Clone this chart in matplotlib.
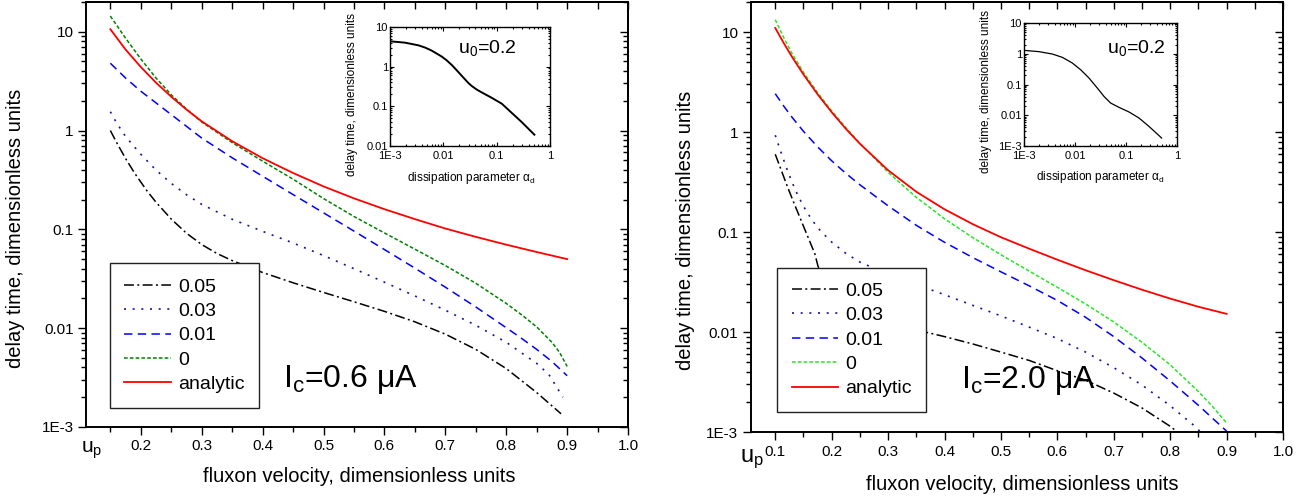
import numpy as np
import matplotlib
matplotlib.use('Agg')
import matplotlib.pyplot as plt
from matplotlib.ticker import FixedLocator, FixedFormatter, MultipleLocator, LogLocator, NullFormatter

plt.rcParams['font.family'] = ['Liberation Sans', 'DejaVu Sans']
plt.rcParams['mathtext.default'] = 'regular'

# ---- left panel, Ic = 0.6 uA ----
xl_an = [0.15, 0.175, 0.2, 0.225, 0.25, 0.275, 0.3, 0.35, 0.4, 0.45, 0.5, 0.55, 0.6, 0.65, 0.7, 0.75, 0.8, 0.85, 0.9]
yl_an = [10.6, 6.6, 4.4, 3.05, 2.2, 1.63, 1.24, 0.78, 0.525, 0.372, 0.272, 0.206, 0.16, 0.127, 0.102, 0.084, 0.07, 0.059, 0.05]

xl_0 = [0.15, 0.175, 0.2, 0.225, 0.25, 0.275, 0.3, 0.35, 0.4, 0.45, 0.5, 0.55, 0.6, 0.65, 0.7, 0.75, 0.8, 0.825, 0.85, 0.875, 0.8875, 0.9]
yl_0 = [14.4, 8.6, 5.3, 3.4, 2.3, 1.65, 1.22, 0.755, 0.49, 0.322, 0.205, 0.135, 0.092, 0.063, 0.043, 0.0285, 0.0178, 0.0137, 0.0103, 0.0072, 0.0057, 0.0041]

xl_01 = [0.15, 0.175, 0.2, 0.25, 0.3, 0.35, 0.4, 0.45, 0.5, 0.55, 0.6, 0.65, 0.7, 0.75, 0.8, 0.825, 0.85, 0.875, 0.9]
yl_01 = [4.8, 3.4, 2.5, 1.45, 0.84, 0.53, 0.345, 0.225, 0.147, 0.096, 0.0625, 0.0405, 0.026, 0.0164, 0.0101, 0.0079, 0.0061, 0.0046, 0.0033]

xl_03 = [0.15, 0.16, 0.175, 0.2, 0.225, 0.25, 0.275, 0.3, 0.35, 0.4, 0.45, 0.5, 0.55, 0.6, 0.65, 0.7, 0.75, 0.8, 0.85, 0.87, 0.893]
yl_03 = [1.55, 1.2, 0.87, 0.575, 0.398, 0.292, 0.224, 0.179, 0.1266, 0.0955, 0.0728, 0.0543, 0.040, 0.0292, 0.0212, 0.0152, 0.0107, 0.0072, 0.0044, 0.0034, 0.0020]

xl_05 = [0.15, 0.16, 0.175, 0.19, 0.21, 0.225, 0.25, 0.275, 0.3, 0.325, 0.35, 0.4, 0.45, 0.5, 0.55, 0.6, 0.65, 0.7, 0.75, 0.8, 0.85, 0.89]
yl_05 = [1.0, 0.762, 0.521, 0.369, 0.246, 0.188, 0.127, 0.0914, 0.0702, 0.057, 0.0483, 0.0366, 0.0288, 0.023, 0.0185, 0.0148, 0.0116, 0.0087, 0.0061, 0.0039, 0.00223, 0.00136]

# inset, left
al_in = [1e-3, 1.9e-3, 3.4e-3, 4.6e-3, 6.0e-3, 9.3e-3, 0.0115, 0.0145, 0.0178, 0.0219, 0.0295, 0.0339, 0.0422, 0.0525, 0.0813, 0.124, 0.19, 0.295, 0.508]
tl_in = [4.36, 4.03, 3.45, 3.01, 2.55, 1.80, 1.45, 1.09, 0.81, 0.596, 0.386, 0.327, 0.265, 0.224, 0.163, 0.117, 0.069, 0.040, 0.0193]

# ---- right panel, Ic = 2.0 uA ----
xr_an = [0.1, 0.115, 0.13, 0.15, 0.175, 0.2, 0.225, 0.25, 0.3, 0.35, 0.4, 0.45, 0.5, 0.55, 0.6, 0.65, 0.7, 0.75, 0.8, 0.85, 0.9]
yr_an = [11.0, 7.78, 5.62, 3.77, 2.39, 1.58, 1.08, 0.765, 0.415, 0.253, 0.169, 0.12, 0.0888, 0.0682, 0.0529, 0.0415, 0.033, 0.0265, 0.0216, 0.0179, 0.0152]

xr_0 = [0.1, 0.115, 0.13, 0.15, 0.175, 0.2, 0.225, 0.25, 0.3, 0.35, 0.4, 0.45, 0.5, 0.55, 0.6, 0.65, 0.7, 0.75, 0.8, 0.85, 0.875, 0.9]
yr_0 = [13.3, 8.82, 6.07, 3.96, 2.48, 1.63, 1.11, 0.772, 0.396, 0.2226, 0.1357, 0.0881, 0.0593, 0.0407, 0.028, 0.0191, 0.0126, 0.0079, 0.0047, 0.00254, 0.0018, 0.00123]

xr_01 = [0.1, 0.115, 0.13, 0.15, 0.175, 0.2, 0.225, 0.25, 0.3, 0.35, 0.4, 0.45, 0.5, 0.55, 0.6, 0.65, 0.7, 0.75, 0.8, 0.85, 0.9]
yr_01 = [2.42, 1.82, 1.40, 1.017, 0.712, 0.516, 0.387, 0.297, 0.183, 0.1168, 0.079, 0.0556, 0.040, 0.029, 0.0207, 0.01405, 0.009, 0.0055, 0.00324, 0.00185, 0.00102]

xr_03 = [0.1, 0.11, 0.12, 0.13, 0.14, 0.15, 0.165, 0.18, 0.2, 0.225, 0.25, 0.3, 0.35, 0.4, 0.45, 0.5, 0.55, 0.6, 0.65, 0.7, 0.75, 0.8, 0.84, 0.87]
yr_03 = [0.93, 0.631, 0.437, 0.313, 0.233, 0.181, 0.132, 0.103, 0.0794, 0.0613, 0.0501, 0.0376, 0.0299, 0.0236, 0.0185, 0.0145, 0.0112, 0.0086, 0.0063, 0.0044, 0.00295, 0.00183, 0.00119, 0.00082]

xr_05 = [0.1, 0.111, 0.122, 0.134, 0.146, 0.158, 0.17, 0.176, 0.2, 0.25, 0.3, 0.35, 0.4, 0.45, 0.5, 0.55, 0.6, 0.65, 0.7, 0.75, 0.8, 0.82]
yr_05 = [0.6, 0.41, 0.28, 0.19, 0.13, 0.089, 0.061, 0.045, 0.030, 0.0175, 0.0128, 0.0105, 0.009, 0.0076, 0.0063, 0.0052, 0.0041, 0.0033, 0.00245, 0.00174, 0.00114, 0.00093]

# inset, right
ar_in = [1e-3, 1.97e-3, 3.6e-3, 5.65e-3, 8.87e-3, 0.0129, 0.0188, 0.0274, 0.0371, 0.05, 0.073, 0.1146, 0.18, 0.2825, 0.501]
tr_in = [1.29, 1.17, 0.98, 0.764, 0.50, 0.303, 0.163, 0.077, 0.041, 0.025, 0.0181, 0.0128, 0.00815, 0.00436, 0.00182]

labels = ['0.05', '0.03', '0.01', '0', 'analytic']

y_ticks = [1e-3, 1e-2, 1e-1, 1, 10]
y_ticklabels = ['1E-3', '0.01', '0.1', '1', '10']
xl_ticks = [0.2, 0.3, 0.4, 0.5, 0.6, 0.7, 0.8, 0.9, 1.0]
xl_ticklabels = ['0.2', '0.3', '0.4', '0.5', '0.6', '0.7', '0.8', '0.9', '1.0']
xr_ticks = [0.1, 0.2, 0.3, 0.4, 0.5, 0.6, 0.7, 0.8, 0.9, 1.0]
xr_ticklabels = ['0.1', '0.2', '0.3', '0.4', '0.5', '0.6', '0.7', '0.8', '0.9', '1.0']
in_xticks = [1e-3, 1e-2, 1e-1, 1]
in_xticklabels = ['1E-3', '0.01', '0.1', '1']


def main_axes(ax, xlim, xt, xtl, lbl_x, lbl_y):
    ax.set_yscale('log')
    ax.set_xlim(*xlim)
    ax.set_ylim(1e-3, 20)
    ax.xaxis.set_major_locator(FixedLocator(xt))
    ax.xaxis.set_major_formatter(FixedFormatter(xtl))
    ax.xaxis.set_minor_locator(MultipleLocator(0.05))
    ax.yaxis.set_major_locator(FixedLocator(y_ticks))
    ax.yaxis.set_major_formatter(FixedFormatter(y_ticklabels))
    ax.yaxis.set_minor_locator(LogLocator(subs=np.arange(2, 10), numticks=20))
    ax.yaxis.set_minor_formatter(NullFormatter())
    ax.tick_params(which='major', direction='out', length=6, width=1, labelsize=11, pad=3)
    ax.tick_params(which='minor', direction='out', length=3.5, width=1)
    for s in ax.spines.values():
        s.set_linewidth(1.4)
    # mirrored ticks pointing inside on top and right
    top = ax.secondary_xaxis('top')
    top.xaxis.set_major_locator(FixedLocator(xt))
    top.xaxis.set_minor_locator(MultipleLocator(0.05))
    top.xaxis.set_major_formatter(NullFormatter())
    top.tick_params(which='major', direction='in', length=5, width=1)
    top.tick_params(which='minor', direction='in', length=5, width=1)
    right = ax.secondary_yaxis('right')
    right.yaxis.set_major_locator(FixedLocator(y_ticks))
    right.yaxis.set_minor_locator(LogLocator(subs=np.arange(2, 10), numticks=20))
    right.yaxis.set_major_formatter(NullFormatter())
    right.yaxis.set_minor_formatter(NullFormatter())
    right.tick_params(which='major', direction='in', length=6, width=1)
    right.tick_params(which='minor', direction='in', length=3.5, width=1)
    for sec in (top, right):
        for s in sec.spines.values():
            s.set_linewidth(1.4)
    ax.set_xlabel('fluxon velocity, dimensionless units', fontsize=14.5)
    ax.set_ylabel('delay time, dimensionless units', fontsize=14.5)
    ax.xaxis.set_label_coords(*lbl_x)
    ax.yaxis.set_label_coords(*lbl_y)


def inset_axes(ax, x, y, ylim, yt, ytl, lw, lbl_x, lbl_y, txt_pos):
    ax.plot(x, y, color='black', lw=lw)
    ax.set_xscale('log')
    ax.set_yscale('log')
    ax.set_xlim(1e-3, 1)
    ax.set_ylim(*ylim)
    ax.xaxis.set_major_locator(FixedLocator(in_xticks))
    ax.xaxis.set_major_formatter(FixedFormatter(in_xticklabels))
    ax.yaxis.set_major_locator(FixedLocator(yt))
    ax.yaxis.set_major_formatter(FixedFormatter(ytl))
    ax.xaxis.set_minor_locator(LogLocator(subs=np.arange(2, 10), numticks=20))
    ax.yaxis.set_minor_locator(LogLocator(subs=np.arange(2, 10), numticks=20))
    ax.xaxis.set_minor_formatter(NullFormatter())
    ax.yaxis.set_minor_formatter(NullFormatter())
    ax.tick_params(which='both', direction='in', top=True, right=True, width=0.8)
    ax.tick_params(which='major', length=3, labelsize=8)
    ax.tick_params(axis='x', which='major', pad=3.5)
    ax.tick_params(axis='y', which='major', pad=1.5)
    ax.tick_params(which='minor', length=1.5)
    for s in ax.spines.values():
        s.set_linewidth(1.0)
    ax.set_xlabel(r'dissipation parameter $\alpha_d$', fontsize=8.5)
    ax.set_ylabel('delay time, dimensionless units', fontsize=8.5)
    ax.xaxis.set_label_coords(*lbl_x)
    ax.yaxis.set_label_coords(*lbl_y)
    ax.text(txt_pos[0], txt_pos[1], r'u$_0$=0.2', transform=ax.transAxes,
            fontsize=14, va='baseline')


def draw_curves(ax, data, green):
    (x5, y5), (x3, y3), (x1, y1), (x0, y0), (xa, ya) = data
    ax.plot(x5, y5, color='black', lw=1.1, dashes=(6.5, 2.2, 1.3, 2.2), label=labels[0])
    ax.plot(x3, y3, color='#1414a0', lw=1.2, dashes=(1.2, 4.0), label=labels[1])
    ax.plot(x1, y1, color='#0000ff', lw=1.1, dashes=(5.5, 3.5), label=labels[2])
    ax.plot(x0, y0, color=green, lw=1.1, dashes=(2.4, 1.4), label=labels[3])
    ax.plot(xa, ya, color='#ff0000', lw=1.3, label=labels[4])


def add_legend(ax, anchor):
    leg = ax.legend(loc='lower left', bbox_to_anchor=anchor, borderaxespad=0, fontsize=14,
                    handlelength=2.4, handletextpad=0.35, labelspacing=0.35, borderpad=0.75,
                    fancybox=False, framealpha=1, edgecolor='#222222')
    leg.get_frame().set_linewidth(1.0)


fig = plt.figure(figsize=(13.15, 4.98), dpi=100)

# left
ax1 = fig.add_axes([0.0654, 0.1426, 0.4122, 0.8534])
draw_curves(ax1, [(xl_05, yl_05), (xl_03, yl_03), (xl_01, yl_01), (xl_0, yl_0), (xl_an, yl_an)], '#008000')
main_axes(ax1, (0.11, 1.0), xl_ticks, xl_ticklabels, (0.505, -0.094), (-0.112, 0.468))
add_legend(ax1, (0.044, 0.045))
ax1.text(0.363, 0.094, r'I$_c$=0.6 μA', transform=ax1.transAxes, fontsize=23, va='baseline')
ax1.text(-0.01, -0.061, r'u$_p$', transform=ax1.transAxes, fontsize=15, va='baseline')

in1 = fig.add_axes([0.2966, 0.7068, 0.1217, 0.239])
inset_axes(in1, al_in, tl_in, (0.01, 10), [0.01, 0.1, 1, 10], ['0.01', '0.1', '1', '10'], 1.4,
           (0.51, -0.2), (-0.2, 0.43), (0.425, 0.78))

# right
ax2 = fig.add_axes([0.5711, 0.1325, 0.4046, 0.8635])
draw_curves(ax2, [(xr_05, yr_05), (xr_03, yr_03), (xr_01, yr_01), (xr_0, yr_0), (xr_an, yr_an)], '#22e822')
main_axes(ax2, (0.057, 1.0), xr_ticks, xr_ticklabels, (0.509, -0.1), (-0.105, 0.47))
add_legend(ax2, (0.049, 0.0465))
ax2.text(0.395, 0.102, r'I$_c$=2.0 μA', transform=ax2.transAxes, fontsize=23, va='baseline')
ax2.text(-0.021, -0.07, r'u$_p$', transform=ax2.transAxes, fontsize=17, va='baseline')

in2 = fig.add_axes([0.7787, 0.7068, 0.1163, 0.247])
inset_axes(in2, ar_in, tr_in, (1e-3, 10), [1e-3, 0.01, 0.1, 1, 10], ['1E-3', '0.01', '0.1', '1', '10'], 0.9,
           (0.5, -0.19), (-0.21, 0.44), (0.54, 0.756))

fig.savefig('out.png', dpi=100)
